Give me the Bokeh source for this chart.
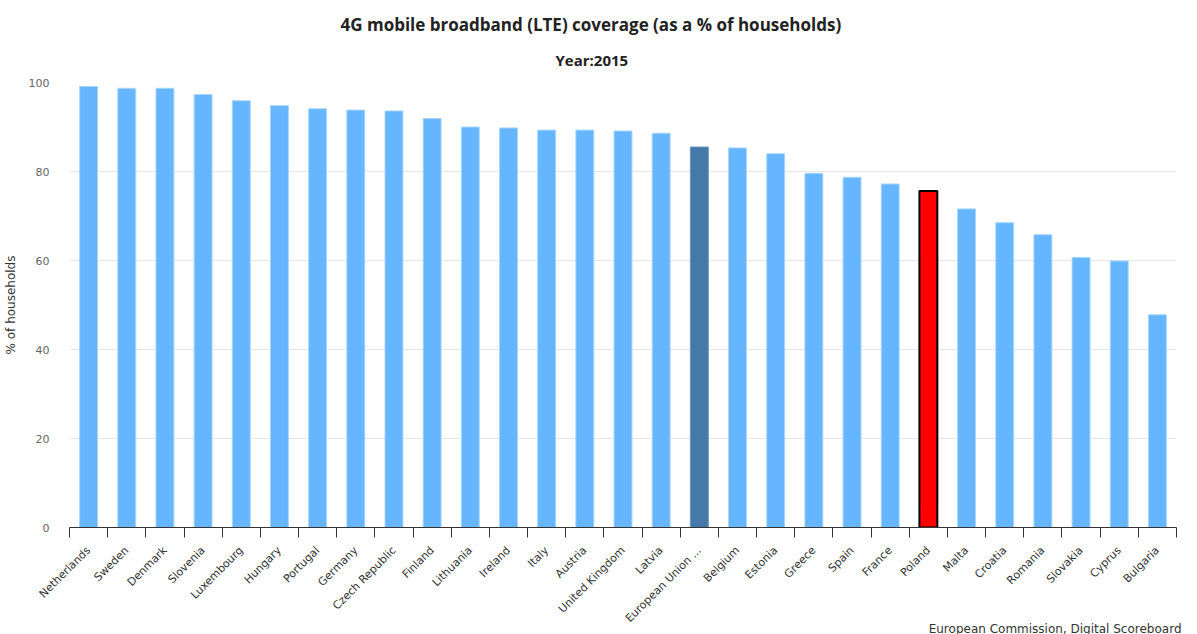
import math
from bokeh.plotting import figure
from bokeh.models import (ColumnDataSource, Range1d, FixedTicker,
                          CustomJSTickFormatter, Title)
from bokeh.embed import file_html
from bokeh.resources import INLINE

# ---- data ----
countries = ["Netherlands", "Sweden", "Denmark", "Slovenia", "Luxembourg",
             "Hungary", "Portugal", "Germany", "Czech Republic", "Finland",
             "Lithuania", "Ireland", "Italy", "Austria", "United Kingdom",
             "Latvia", "European Union ...", "Belgium", "Estonia", "Greece",
             "Spain", "France", "Poland", "Malta", "Croatia", "Romania",
             "Slovakia", "Cyprus", "Bulgaria"]
coverage = [99.1, 98.7, 98.7, 97.3, 95.9,
            94.8, 94.1, 93.8, 93.6, 91.9,
            90.0, 89.8, 89.3, 89.3, 89.1,
            88.6, 85.5, 85.3, 84.0, 79.6,
            78.7, 77.2, 75.6, 71.6, 68.5, 65.8,
            60.7, 59.9, 47.8]
y_ticks = [0, 20, 40, 60, 80, 100]
eu_name = "European Union ..."
focus_name = "Poland"

title_text = "4G mobile broadband (LTE) coverage (as a % of households)"
subtitle_text = "Year:2015"
y_label = "% of households"
credit_text = "European Commission, Digital Scoreboard"

# ---- layout ----
W, H = 1197, 634
L, R, T, B = 69, 21, 82, 107
FONT = "DejaVu Sans"
TFONT = "Open Sans"

n = len(countries)
xs = [i + 0.5 for i in range(n)]
fill, line, lw = [], [], []
for c in countries:
    if c == eu_name:
        fill.append("#4479a9"); line.append("#6b95bb"); lw.append(1)
    elif c == focus_name:
        fill.append("#ff0000"); line.append("#000000"); lw.append(2)
    else:
        fill.append("#65b6ff"); line.append("#a9d6ff"); lw.append(1)

src = ColumnDataSource(dict(x=xs, top=coverage, name=countries,
                            fill=fill, line=line, lw=lw))

p = figure(width=W, height=H, output_backend="svg", toolbar_location=None,
           x_range=Range1d(0, n), y_range=Range1d(0, 100),
           min_border_left=L, min_border_right=R,
           min_border_top=T, min_border_bottom=B, title=None)
p.outline_line_color = None
p.background_fill_color = "white"
p.border_fill_color = "white"

p.vbar(x="x", top="top", bottom=0, width=0.47, source=src,
       fill_color="fill", line_color="line", line_width="lw")

# x axis
xa = p.xaxis[0]
xa.ticker = FixedTicker(ticks=xs, minor_ticks=list(range(n + 1)))
xa.formatter = CustomJSTickFormatter(
    args=dict(names=countries),
    code="const i = Math.floor(tick); return (i >= 0 && i < names.length) ? names[i] : '';")
xa.major_tick_out = 0
xa.major_tick_in = 0
xa.minor_tick_out = 10
xa.minor_tick_in = 0
xa.minor_tick_line_color = "#333333"
xa.axis_line_color = "#333333"
xa.major_label_orientation = math.pi / 4
xa.major_label_standoff = 11
xa.major_label_text_font = FONT
xa.major_label_text_font_size = "11px"
xa.major_label_text_color = "#333333"
p.xgrid.visible = False

# y axis
ya = p.yaxis[0]
ya.ticker = FixedTicker(ticks=y_ticks)
ya.axis_line_color = None
ya.major_tick_line_color = None
ya.minor_tick_line_color = None
ya.major_label_standoff = 14
ya.major_label_text_font = FONT
ya.major_label_text_font_size = "11px"
ya.major_label_text_color = "#666666"
ya.axis_label = y_label
ya.axis_label_text_font = FONT
ya.axis_label_text_font_size = "12px"
ya.axis_label_text_font_style = "normal"
ya.axis_label_text_color = "#333333"
ya.axis_label_standoff = 8
p.ygrid.grid_line_color = "#e6e6e6"
p.ygrid.ticker = FixedTicker(ticks=y_ticks)

# titles (closest to the frame first)
sub = Title(text=subtitle_text, align="left", offset=486,
            text_font=TFONT, text_font_size="15px", text_font_style="bold",
            text_color="#222222", standoff=26)
ttl = Title(text=title_text, align="left", offset=271,
            text_font=TFONT, text_font_size="17px", text_font_style="bold",
            text_color="#222222", standoff=-3)
p.add_layout(sub, "above")
p.add_layout(ttl, "above")

# source credit at the bottom right
credit = Title(text=credit_text, align="right", offset=-5,
               vertical_align="top",
               text_font=FONT, text_font_size="12px", text_font_style="normal",
               text_color="#333333", standoff=-22)
p.add_layout(credit, "below")

open("out.html", "w").write(file_html(p, INLINE))
